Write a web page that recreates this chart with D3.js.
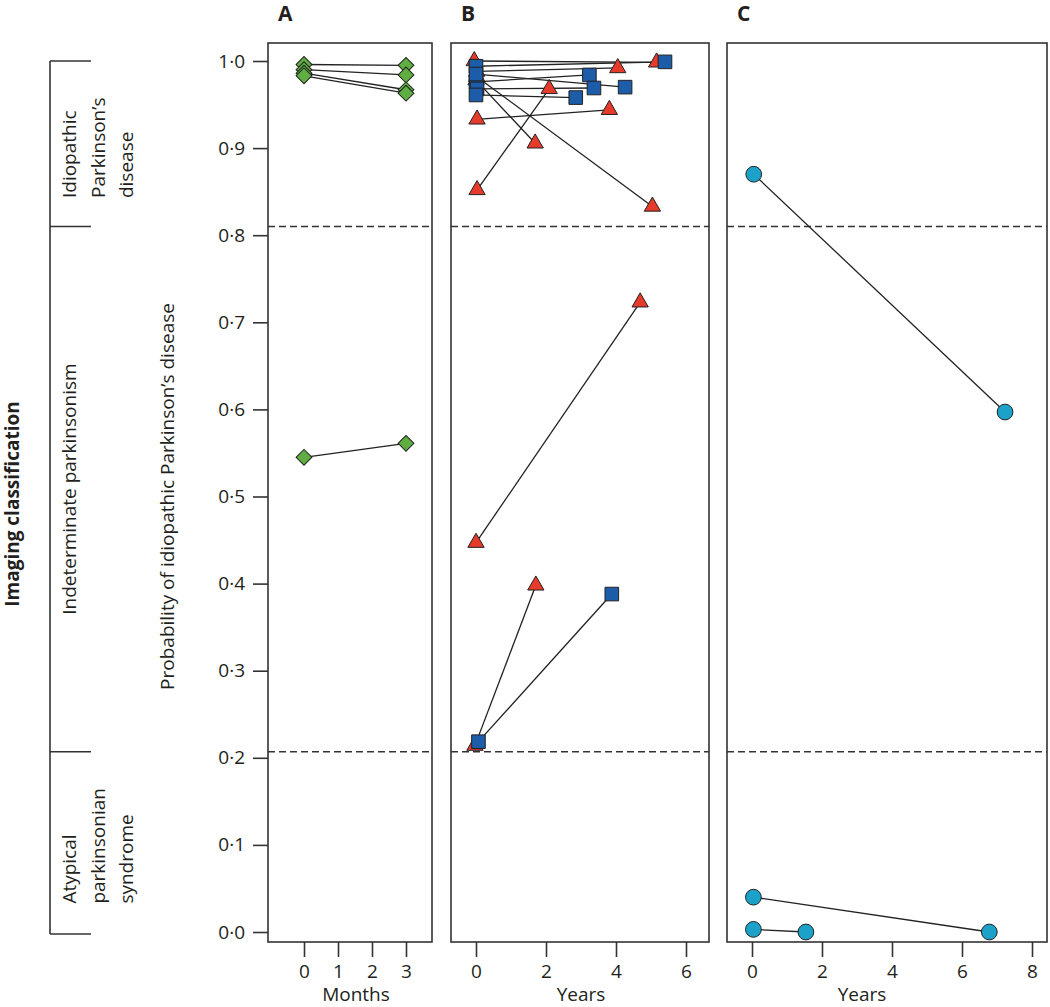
<!DOCTYPE html>
<html><head><meta charset="utf-8">
<script src="https://cdn.jsdelivr.net/npm/d3@7"></script>
<style>
body{margin:0;background:#fff}
text{font-family:"Open Sans",sans-serif;fill:#231f20}
</style>
</head><body>
<svg id="chart" width="1050" height="1007"></svg>
<script>
// ---------------- data ----------------
const yTickValues = [0, 0.1, 0.2, 0.3, 0.4, 0.5, 0.6, 0.7, 0.8, 0.9, 1.0];
const monthTicks = [0, 1, 2, 3];
const yearTicksB = [0, 2, 4, 6];
const yearTicksC = [0, 2, 4, 6, 8];
const thresholds = [0.207, 0.81];
const classBounds = [0, 0.207, 0.81, 1.0];
const classLabels = [
  ["Atypical", "parkinsonian", "syndrome"],
  ["Indeterminate parkinsonism"],
  ["Idiopathic", "Parkinson\u2019s", "disease"]
];
const panelTitles = ["A", "B", "C"];
const axisTitles = ["Months", "Years", "Years"];

// Panel A (green diamonds), months
const aTime0 = [0, 0, 0, 0, 0];
const aProb0 = [0.996, 0.990, 0.986, 0.983, 0.545];
const aTime1 = [3, 3, 3, 3, 3];
const aProb1 = [0.995, 0.984, 0.967, 0.963, 0.561];

// Panel B red triangles, years
const bTriTime0 = [-0.05, 0.02, 0.0, 0.02, 0.03, 0.03, 0.0, -0.03];
const bTriProb0 = [1.000, 0.988, 0.978, 0.982, 0.933, 0.852, 0.447, 0.214];
const bTriTime1 = [5.16, 4.05, 1.69, 5.04, 3.81, 2.09, 4.69, 1.71];
const bTriProb1 = [0.9985, 0.992, 0.9055, 0.833, 0.944, 0.968, 0.723, 0.398];

// Panel B blue squares, years
const bSqTime0 = [0.0, 0.0, 0.03, 0.0, 0.0, 0.07];
const bSqProb0 = [0.994, 0.976, 0.968, 0.985, 0.961, 0.2185];
const bSqTime1 = [5.4, 3.24, 3.37, 4.26, 2.85, 3.88];
const bSqProb1 = [0.999, 0.984, 0.969, 0.970, 0.958, 0.388];

// Panel C cyan circles, years
const cTime0 = [0.05, 0.04, 0.04];
const cProb0 = [0.870, 0.040, 0.003];
const cTime1 = [7.23, 6.78, 1.54];
const cProb1 = [0.597, 0.0, 0.0];

// ---------------- layout ----------------
const svg = d3.select("#chart");
const boxTop = 43, boxBottom = 942;
const ink = "#231f20";
const y = d3.scaleLinear().domain([0, 1]).range([932, 61]);

const panels = [
  {x: d3.scaleLinear().domain([0, 3]).range([304, 406]), left: 268, right: 432, ticks: monthTicks, labelX: 356},
  {x: d3.scaleLinear().domain([0, 6]).range([476, 686]), left: 451, right: 709, ticks: yearTicksB, labelX: 581},
  {x: d3.scaleLinear().domain([0, 8]).range([752, 1032]), left: 727, right: 1047, ticks: yearTicksC, labelX: 862}
];

const fmt = v => d3.format(".1f")(v).replace(".", "\u00b7");

panels.forEach((p, i) => {
  const g = svg.append("g");
  // threshold dashed lines
  g.selectAll("line.th").data(thresholds).join("line")
    .attr("x1", p.left).attr("x2", p.right)
    .attr("y1", d => y(d)).attr("y2", d => y(d))
    .attr("stroke", "#333").attr("stroke-width", 1.4).attr("stroke-dasharray", "7,4");
  // box
  g.append("rect").attr("x", p.left).attr("y", boxTop)
    .attr("width", p.right - p.left).attr("height", boxBottom - boxTop)
    .attr("fill", "none").attr("stroke", "#333").attr("stroke-width", 1.6);
  // x axis
  const ax = g.append("g").attr("transform", `translate(0,${boxBottom})`)
    .call(d3.axisBottom(p.x).tickValues(p.ticks).tickFormat(d3.format("d")).tickSize(15).tickPadding(8));
  ax.select(".domain").remove();
  ax.selectAll("line").attr("stroke", "#333").attr("stroke-width", 1.6);
  ax.selectAll("text").attr("font-size", 19).attr("fill", ink).attr("font-family", "Open Sans");
  // axis title
  g.append("text").attr("x", p.labelX).attr("y", 1001).attr("text-anchor", "middle")
    .attr("font-size", 19).text(axisTitles[i]);
  // panel title
  g.append("text").attr("x", p.left + 10).attr("y", 21).attr("font-size", 21)
    .attr("font-weight", "bold").text(panelTitles[i]);
  p.g = g;
});

// y axis on panel A
const yAx = svg.append("g").attr("transform", `translate(${panels[0].left},0)`)
  .call(d3.axisLeft(y).tickValues(yTickValues).tickFormat(fmt).tickSize(15).tickPadding(8));
yAx.select(".domain").remove();
yAx.selectAll("line").attr("stroke", "#333").attr("stroke-width", 1.6);
yAx.selectAll("text").attr("font-size", 19).attr("fill", ink).attr("font-family", "Open Sans");

svg.append("text")
  .attr("transform", `translate(174,${(y(0) + y(1)) / 2}) rotate(-90)`)
  .attr("text-anchor", "middle").attr("font-size", 19)
  .text("Probability of idiopathic Parkinson\u2019s disease");

// classification bracket
const bx = 50, bx2 = 91;
svg.append("line").attr("x1", bx).attr("x2", bx)
  .attr("y1", y(classBounds[classBounds.length - 1])).attr("y2", y(classBounds[0]) + 2)
  .attr("stroke", "#333").attr("stroke-width", 1.6);
svg.selectAll("line.bt").data(classBounds).join("line")
  .attr("x1", bx).attr("x2", bx2)
  .attr("y1", (d, i) => y(d) + (i === 0 ? 2 : 0)).attr("y2", (d, i) => y(d) + (i === 0 ? 2 : 0))
  .attr("stroke", "#333").attr("stroke-width", 1.6);

const lineBaselines = [76, 104.5, 133];
classLabels.forEach((lines, k) => {
  const cy = (y(classBounds[k]) + y(classBounds[k + 1])) / 2;
  const texts = lines.map((t, j) => svg.append("text").attr("font-size", 19).text(t));
  const maxLen = d3.max(texts, t => t.node().getComputedTextLength());
  const anchorY = lines.length > 1 ? cy + maxLen / 2 + 4 : cy;
  texts.forEach((t, j) => {
    t.attr("transform", `translate(${lineBaselines[j]},${anchorY}) rotate(-90)`)
     .attr("text-anchor", lines.length > 1 ? "start" : "middle");
  });
});

svg.append("text")
  .attr("transform", `translate(19,504) rotate(-90)`)
  .attr("text-anchor", "middle").attr("font-size", 19).attr("font-weight", "bold")
  .text("Imaging classification");

// ---------------- series ----------------
function drawPairs(g, xs, t0, p0, t1, p1) {
  g.selectAll(null).data(d3.range(t0.length)).join("line")
    .attr("x1", i => xs(t0[i])).attr("y1", i => y(p0[i]))
    .attr("x2", i => xs(t1[i])).attr("y2", i => y(p1[i]))
    .attr("stroke", "#222").attr("stroke-width", 1.3);
}
function drawPoints(g, xs, t0, p0, t1, p1, symbolType, size, fill, rot) {
  const pts = [];
  t0.forEach((t, i) => { pts.push([t0[i], p0[i]]); pts.push([t1[i], p1[i]]); });
  g.selectAll(null).data(pts).join("path")
    .attr("d", d3.symbol(symbolType, size))
    .attr("transform", d => `translate(${xs(d[0])},${y(d[1])}) rotate(${rot})`)
    .attr("fill", fill).attr("stroke", "#222").attr("stroke-width", 1);
}

const gA = panels[0].g, gB = panels[1].g, gC = panels[2].g;
drawPairs(gA, panels[0].x, aTime0, aProb0, aTime1, aProb1);
drawPoints(gA, panels[0].x, aTime0, aProb0, aTime1, aProb1, d3.symbolSquare, 125, "#5fae42", 45);

drawPairs(gB, panels[1].x, bTriTime0, bTriProb0, bTriTime1, bTriProb1);
drawPairs(gB, panels[1].x, bSqTime0, bSqProb0, bSqTime1, bSqProb1);
drawPoints(gB, panels[1].x, bTriTime0, bTriProb0, bTriTime1, bTriProb1, d3.symbolTriangle, 115, "#e63a2b", 0);
drawPoints(gB, panels[1].x, bSqTime0, bSqProb0, bSqTime1, bSqProb1, d3.symbolSquare, 185, "#1d5ca8", 0);

drawPairs(gC, panels[2].x, cTime0, cProb0, cTime1, cProb1);
drawPoints(gC, panels[2].x, cTime0, cProb0, cTime1, cProb1, d3.symbolCircle, 195, "#1ca2c8", 0);
</script>
</body></html>
